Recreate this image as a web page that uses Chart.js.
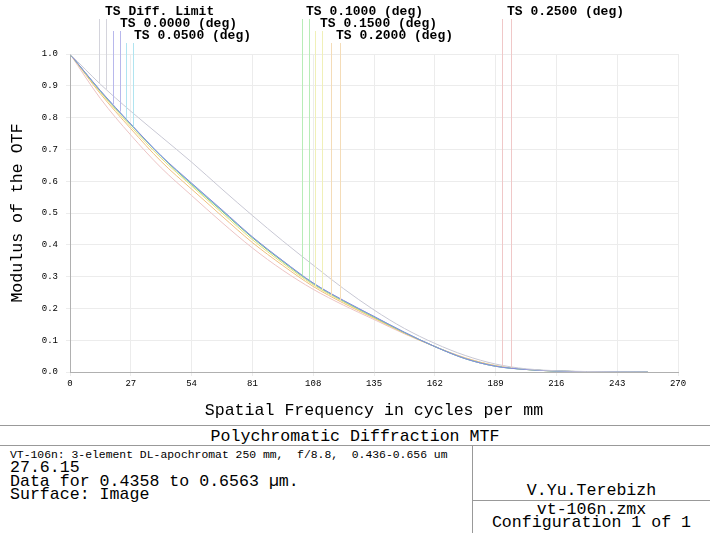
<!DOCTYPE html>
<html><head><meta charset="utf-8">
<script src="https://cdn.jsdelivr.net/npm/chart.js@4/dist/chart.umd.min.js"></script>
<style>
body{margin:0;background:#fff;}
#wrap{position:relative;width:710px;height:533px;overflow:hidden;font-family:"Liberation Mono","DejaVu Sans Mono",monospace;color:#000;}
#c{position:absolute;left:0;top:0;}
.t{position:absolute;font-size:16.6px;white-space:pre;line-height:13px;}
.h{position:absolute;height:1px;background:#999;}
.v{position:absolute;width:1px;background:#999;}
</style></head><body>
<div id="wrap">
<canvas id="c" width="710" height="425"></canvas>
<div class="h" style="left:0;top:425px;width:710px"></div>
<div class="t" style="left:0;width:710px;text-align:center;top:430px">Polychromatic Diffraction MTF</div>
<div class="h" style="left:0;top:445px;width:710px"></div>
<div class="t" style="left:10px;top:449px;font-size:11.4px">VT-106n: 3-element DL-apochromat 250 mm,  f/8.8,  0.436-0.656 um</div>
<div class="t" style="left:10px;top:461px">27.6.15</div>
<div class="t" style="left:10px;top:475px">Data for 0.4358 to 0.6563 µm.</div>
<div class="t" style="left:10px;top:488px">Surface: Image</div>
<div class="v" style="left:472px;top:445px;height:88px"></div>
<div class="t" style="left:473px;width:237px;text-align:center;top:484px">V.Yu.Terebizh</div>
<div class="h" style="left:472px;top:500px;width:238px"></div>
<div class="t" style="left:473px;width:237px;text-align:center;top:503px">vt-106n.zmx</div>
<div class="t" style="left:473px;width:237px;text-align:center;top:516px">Configuration 1 of 1</div>
</div>
<script>
const freqs=[0,13.5,27,40.5,54,67.5,81,94.5,108,121.5,135,148.5,162,175.5,189,202.5,216,229.5,243,256.5];
const diffLimit=[1,0.905,0.82,0.74,0.66,0.575,0.492,0.412,0.336,0.262,0.195,0.137,0.09,0.052,0.025,0.01,0.004,0.0015,0.0005,0];
const field000=[1,0.885,0.78,0.68,0.594,0.51,0.425,0.35,0.28,0.225,0.175,0.125,0.08,0.042,0.018,0.008,0.003,0.001,0.0003,0];
const field005=[1,0.884,0.779,0.679,0.592,0.508,0.424,0.349,0.279,0.224,0.174,0.125,0.08,0.042,0.018,0.008,0.003,0.001,0.0003,0];
const field010=[1,0.883,0.778,0.678,0.59,0.506,0.422,0.347,0.278,0.223,0.173,0.124,0.08,0.042,0.018,0.008,0.003,0.001,0.0003,0];
const field015=[1,0.88,0.772,0.672,0.585,0.5,0.416,0.342,0.274,0.22,0.171,0.123,0.08,0.043,0.019,0.008,0.003,0.001,0.0003,0];
const field020=[1,0.875,0.765,0.662,0.575,0.49,0.407,0.335,0.269,0.216,0.169,0.122,0.08,0.044,0.02,0.008,0.003,0.001,0.0003,0];
const field025=[1,0.86,0.745,0.642,0.555,0.47,0.39,0.32,0.26,0.21,0.165,0.12,0.08,0.045,0.02,0.008,0.003,0.001,0.0003,0];
const xTicks=[0,27,54,81,108,135,162,189,216,243,270];
const legendLabels=["TS Diff. Limit","TS 0.0000 (deg)","TS 0.0500 (deg)","TS 0.1000 (deg)","TS 0.1500 (deg)","TS 0.2000 (deg)","TS 0.2500 (deg)"];
const legendFreqs=[[13,16],[19,22],[25,28],[103,106],[109,112],[116,120],[192,196]];
const colors=["#d4d4dc","#b8b8ec","#b0e4f0","#b8ecb8","#f0f0b8","#f4dcb8","#f0c8c8"];
const series=[diffLimit,field000,field005,field010,field015,field020,field025];
const drawColors=["#c8c8d4","#8888d8","#80d0e0","#70c070","#e8e080","#f0c080","#ecc4c4"];
const labelPos=[[105,12],[120,24],[134,36],[306,12],[320,24],[336,36],[507,12]];

function interp(arr,f){for(let i=0;i<freqs.length-1;i++){if(f>=freqs[i]&&f<=freqs[i+1]){const t=(f-freqs[i])/(freqs[i+1]-freqs[i]);return arr[i]+t*(arr[i+1]-arr[i]);}}return 0;}

const legendPlugin={id:'lg',afterDatasetsDraw(ch){
 const c=ch.ctx,xs=ch.scales.x,ys=ch.scales.y;
 c.save();c.font='bold 13px "Liberation Mono", monospace';c.textBaseline='top';c.fillStyle='#000';
 legendLabels.forEach((l,i)=>{
  const [lx,ly]=labelPos[i];
  c.fillText(l,lx,ly-7);
  legendFreqs[i].forEach(f=>{
   const px=Math.round(xs.getPixelForValue(f))+0.5;
   const py=ys.getPixelForValue(interp(series[i],f));
   c.strokeStyle=colors[i];c.lineWidth=1;c.beginPath();c.moveTo(px,ly+7);c.lineTo(px,py);c.stroke();
  });
 });
 c.restore();
}};

const ds=[];
series.forEach((s,i)=>{
 ds.push({data:freqs.map((f,j)=>({x:f,y:s[j]})),borderColor:drawColors[i],borderWidth:1,pointRadius:0,cubicInterpolationMode:'monotone'});
});
new Chart(document.getElementById('c'),{type:'line',data:{datasets:ds},
 options:{responsive:false,animation:false,plugins:{legend:{display:false},tooltip:{enabled:false}},
 layout:{padding:{top:54,right:32,left:0,bottom:0}},
 scales:{
  x:{type:'linear',min:0,max:270,afterBuildTicks(a){a.ticks=xTicks.map(v=>({value:v}));},
   afterFit(a){a.height=53;},
   grid:{color:'#ececec',tickLength:4,drawTicks:true},border:{color:'#b0b0b0'},
   ticks:{font:{family:'Liberation Mono',size:9},color:'#000',maxRotation:0,padding:2},
   title:{display:true,text:'Spatial Frequency in cycles per mm',font:{family:'Liberation Mono',size:16.6},color:'#000',padding:{top:4}}},
  y:{min:0,max:1,afterFit(a){a.width=70;},
   grid:{color:'#ececec',tickLength:4},border:{color:'#b0b0b0'},
   ticks:{stepSize:0.1,font:{family:'Liberation Mono',size:9},color:'#000',callback:v=>v.toFixed(1),padding:8},
   title:{display:true,text:'Modulus of the OTF',font:{family:'Liberation Mono',size:16.6},color:'#000',padding:{top:8,bottom:4}}}
 }},plugins:[legendPlugin]});
</script>
</body></html>
